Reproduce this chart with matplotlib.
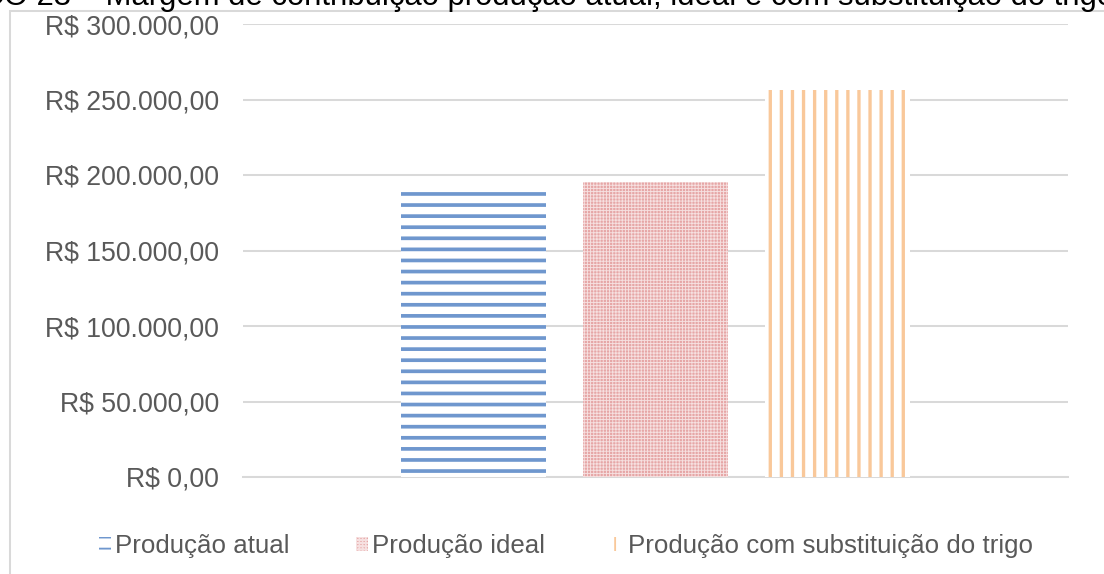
import matplotlib.pyplot as plt
import matplotlib.ticker as mticker
from matplotlib.patches import Rectangle, Patch
import numpy as np

plt.rcParams['font.family'] = ['Liberation Sans', 'DejaVu Sans']

# dados do grafico
series = ["Produção atual", "Produção ideal", "Produção com substituição do trigo"]
valores = [192300, 195600, 256400]
yticks = [0, 50000, 100000, 150000, 200000, 250000, 300000]
titulo = "GRÁFICO 23 – Margem de contribuição produção atual, ideal e com substituição do trigo"

# estilos de cada serie (cor de fundo, cor do hachurado, hachura)
faces = ["white", "#E6A6A6", "white"]
hatch_cols = ["#6F97CE", "#F6E0E0", "#F9C89A"]
hatches = ["--", "+++++++", "||"]
hatch_lws = [2.0, 0.5, 1.8]

DPI = 133
fig = plt.figure(figsize=(1104 / DPI, 574 / DPI), dpi=DPI)
ax = fig.add_axes([243 / 1104, 1 - 477 / 574, (1068 - 243) / 1104, (477 - 24) / 574])

x = np.arange(len(valores)) - 1
handles = []
for i in range(len(valores)):
    with plt.rc_context({'hatch.linewidth': hatch_lws[i]}):
        ax.bar(x[i], valores[i], width=0.8, color=faces[i], edgecolor=hatch_cols[i],
               hatch=hatches[i], linewidth=0, zorder=3)
        h = Patch(facecolor=faces[i], edgecolor=hatch_cols[i], hatch=hatches[i],
                  linewidth=0, label=series[i])
    handles.append(h)

ax.set_xlim(-2.265, 2.265)
ax.set_ylim(0, 300000)
ax.set_yticks(yticks)

def reais(v, pos):
    s = f"{v:,.2f}".replace(",", "X").replace(".", ",").replace("X", ".")
    return "R$ " + s

ax.yaxis.set_major_formatter(mticker.FuncFormatter(reais))
ax.tick_params(axis='y', length=0, pad=13, labelsize=14.4, labelcolor="#595959")
ax.set_xticks([])
ax.grid(axis='y', color="#D9D9D9", linewidth=1.1, zorder=0)
for s in ["left", "right", "top"]:
    ax.spines[s].set_visible(False)
ax.spines["bottom"].set_color("#D9D9D9")
ax.spines["bottom"].set_linewidth(1.1)
ax.set_axisbelow(True)

# legenda embaixo
fig.legend(handles=handles, loc="center", bbox_to_anchor=(566 / 1104, 1 - 546 / 574),
           ncol=3, frameon=False, fontsize=14, labelcolor="#595959",
           handlelength=0.45, handleheight=0.45, handletextpad=0.15, columnspacing=2.6)

# moldura da area do grafico (cortada na imagem)
fig.patches.append(Rectangle((10 / 1104, -0.1), 1.2, 1 - 11 / 574 + 0.1,
                             transform=fig.transFigure, fill=False,
                             edgecolor="#D9D9D9", linewidth=1.1))

# titulo cortado no topo
fig.text(1114 / 1104, 1 - 5 / 574, titulo, ha="right", va="baseline",
         fontsize=16.8, color="black")

fig.savefig("out.png", dpi=DPI)
